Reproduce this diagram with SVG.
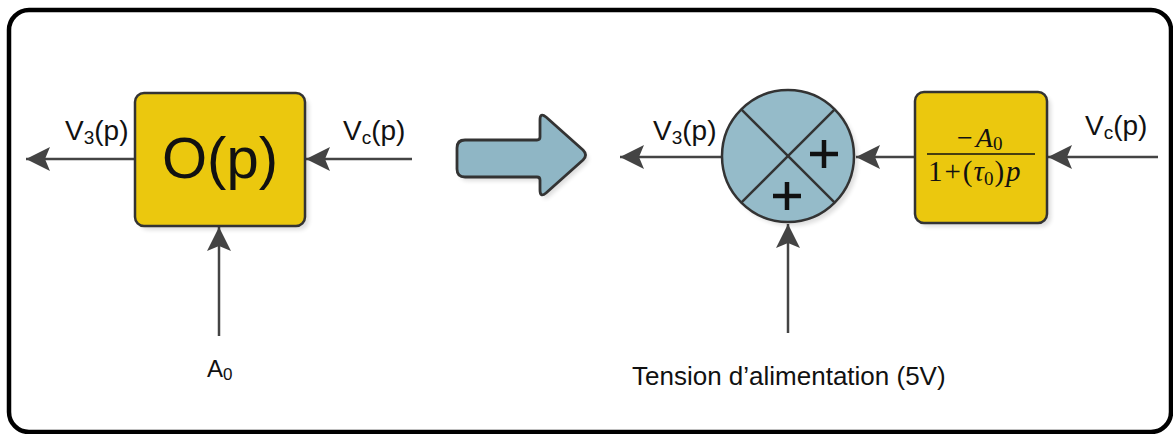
<svg xmlns="http://www.w3.org/2000/svg" width="1173" height="434" viewBox="0 0 1173 434">
<style>
.frame{fill:#fff;stroke:#000;stroke-width:4.5}
.box{fill:#EBC80E;stroke:#333;stroke-width:2.5}
.shadow{fill:#000;opacity:0.13}
.sum{fill:#95BBC9;stroke:#333;stroke-width:2.5}
.div{stroke:#333;stroke-width:2.5;fill:none}
.plus{stroke:#111;stroke-width:4.5;fill:none}
.wire{stroke:#444;stroke-width:2.5;fill:none}
.lbl{font-family:"Liberation Sans",Arial,sans-serif;fill:#111}
.math{font-family:"Liberation Serif","Times New Roman",serif;fill:#111}
</style>
<defs>
<marker id="ah" markerUnits="userSpaceOnUse" markerWidth="26" markerHeight="26" refX="24" refY="12" orient="auto">
<path d="M0,0 L24,12 L0,24 L5,12 z" fill="#444"/>
</marker>
<filter id="blur" x="-10%" y="-10%" width="130%" height="130%"><feGaussianBlur stdDeviation="2"/></filter>
</defs>
<rect class="frame" x="9" y="10" width="1162" height="422" rx="20"/>

<g id="connectors">
<line class="wire" x1="135" y1="159" x2="26" y2="159" marker-end="url(#ah)"/>
<line class="wire" x1="412" y1="159" x2="306" y2="159" marker-end="url(#ah)"/>
<line class="wire" x1="219" y1="336" x2="219" y2="227" marker-end="url(#ah)"/>
<line class="wire" x1="722" y1="157" x2="620" y2="157" marker-end="url(#ah)"/>
<line class="wire" x1="915" y1="157" x2="856" y2="157" marker-end="url(#ah)"/>
<line class="wire" x1="1158" y1="157" x2="1048" y2="157" marker-end="url(#ah)"/>
<line class="wire" x1="788" y1="333" x2="788" y2="224" marker-end="url(#ah)"/>
</g>

<g id="block-O">
<rect class="shadow" x="139" y="97" width="170" height="133" rx="9" filter="url(#blur)"/>
<rect class="box" x="135" y="93" width="170" height="133" rx="9"/>
<text class="lbl" x="220" y="178" font-size="58" text-anchor="middle">O(p)</text>
</g>

<g id="label-V3-left"><text class="lbl" x="65" y="140" font-size="28">V<tspan font-size="19" dy="4">3</tspan><tspan dy="-4">(p)</tspan></text></g>
<g id="label-Vc-left"><text class="lbl" x="343" y="140" font-size="28">V<tspan font-size="19" dy="4">c</tspan><tspan dy="-4">(p)</tspan></text></g>
<g id="label-A0"><text class="lbl" x="207" y="377" font-size="24">A<tspan font-size="17" dy="3">0</tspan></text></g>

<g id="big-arrow">
<path class="shadow" transform="translate(3,4)" filter="url(#blur)" d="M 465,140 L 537,140 Q 540,140 540,137 L 540,120 Q 540,112 546,117 L 583,150 Q 588,155 583,160 L 546,193 Q 540,198 540,190 L 540,180 Q 540,177 537,177 L 465,177 Q 457,177 457,169 L 457,148 Q 457,140 465,140 Z"/>
<path d="M 465,140 L 537,140 Q 540,140 540,137 L 540,120 Q 540,112 546,117 L 583,150 Q 588,155 583,160 L 546,193 Q 540,198 540,190 L 540,180 Q 540,177 537,177 L 465,177 Q 457,177 457,169 L 457,148 Q 457,140 465,140 Z" fill="#8FB6C5" stroke="#333" stroke-width="2.8" stroke-linejoin="round"/>
</g>

<g id="sum">
<circle class="shadow" cx="792" cy="160" r="66" filter="url(#blur)"/>
<circle class="sum" cx="788" cy="156" r="66"/>
<line class="div" x1="741.3" y1="109.3" x2="834.7" y2="202.7"/>
<line class="div" x1="834.7" y1="109.3" x2="741.3" y2="202.7"/>
<path class="plus" d="M810,154 H838 M824,140 V168"/>
<path class="plus" d="M773,196 H801 M787,182 V210"/>
</g>

<g id="label-V3-right"><text class="lbl" x="653" y="140" font-size="28">V<tspan font-size="19" dy="4">3</tspan><tspan dy="-4">(p)</tspan></text></g>

<g id="block-tf">
<rect class="shadow" x="919" y="96" width="132" height="131" rx="9" filter="url(#blur)"/>
<rect class="box" x="915" y="92" width="132" height="131" rx="9"/>
<text class="math" x="957" y="147" font-size="28">−<tspan font-style="italic" dx="3">A</tspan><tspan font-size="19" dy="3">0</tspan></text>
<line x1="927" y1="154" x2="1035" y2="154" stroke="#111" stroke-width="1.5"/>
<text class="math" x="928" y="181" font-size="29">1<tspan dx="2">+</tspan><tspan dx="2">(</tspan><tspan font-style="italic" dx="1">τ</tspan><tspan font-size="19" dy="4">0</tspan><tspan dy="-4" dx="1">)</tspan><tspan font-style="italic" dx="2">p</tspan></text>
</g>

<g id="label-Vc-right"><text class="lbl" x="1085" y="135" font-size="28">V<tspan font-size="19" dy="4">c</tspan><tspan dy="-4">(p)</tspan></text></g>
<g id="label-tension"><text class="lbl" x="632" y="385" font-size="26">Tension d’alimentation (5V)</text></g>
</svg>
